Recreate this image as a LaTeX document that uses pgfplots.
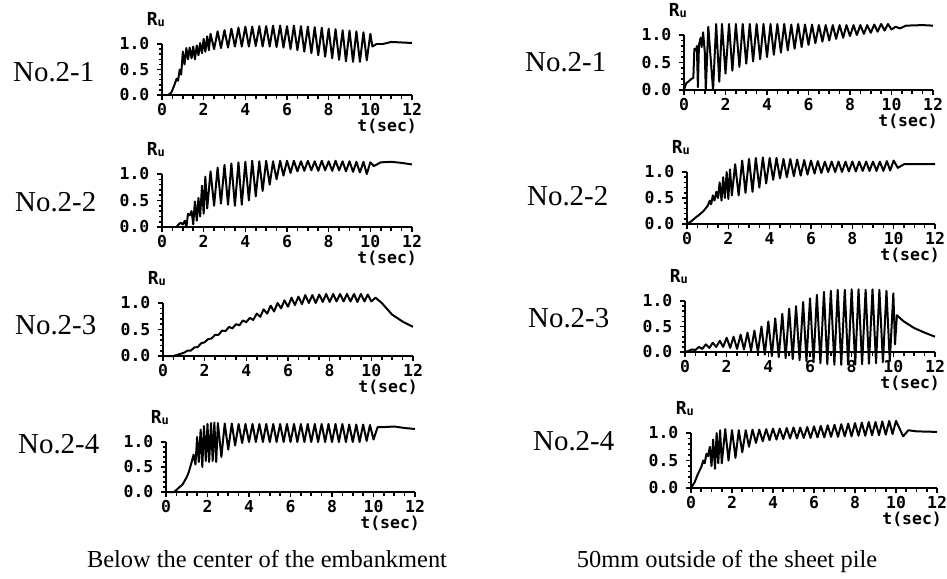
\documentclass[border=0pt]{standalone}
\usepackage{fontspec}
\setmainfont{Liberation Serif}
\newfontfamily\monofam{DejaVu Sans Mono}
\usepackage{pgfplots}
\pgfplotsset{compat=1.18}

\newcommand\tickfont{\monofam\bfseries\fontsize{16.5}{17}\selectfont}
\newcommand\rufont{\monofam\bfseries\fontsize{18}{18}\selectfont}
\newcommand\Ru{R\raisebox{-1bp}{\fontsize{12}{12}\selectfont u}}

\pgfplotsset{
  rupanel/.style={
    scale only axis, anchor=south west,
    xmin=0, xmax=12, ymin=0, ymax=1,
    axis x line=bottom, axis y line=left,
    axis line style={-, line width=1.8pt},
    xtick={0,2,4,6,8,10,12}, ytick={0,0.5,1},
    xticklabels={0,2,4,6,8,10,12}, yticklabels={0.0,0.5,1.0},
    minor x tick num=3, minor y tick num=4,
    tick align=outside, major tick length=5bp, minor tick length=3.5bp,
    tick style={black, line width=1.6pt},
    tick label style={font=\tickfont, inner sep=0.5bp},
    yticklabel style={xshift=-7bp},
    xticklabel style={yshift=-3bp},
    clip=false,
  },
  trace/.style={black, line width=2pt, mark=none, line join=round},
}
% Ru and t(sec) labels of every panel
\newcommand\panellabels{%
  \node[font=\rufont, anchor=south east, inner sep=0] at (rel axis cs:0,1) [xshift=3bp, yshift=17bp] {\Ru};
  \node[font=\tickfont, anchor=north east, inner sep=0] at (rel axis cs:1,0) [xshift=5bp, yshift=-24bp] {t(sec)};
}

\begin{document}
\begin{tikzpicture}
\useasboundingbox (0,0) rectangle (947bp,-579bp);

% ---------- left column: below the centre of the embankment ----------
\begin{axis}[rupanel, at={(162bp,-95bp)}, width=250bp, height=51bp]
\addplot[trace] coordinates {(0,0) (0.3,0) (0.45,0.05) (0.6,0.2) (0.7,0.32) (0.77,0.28) (0.85,0.5) (0.92,0.4) (1.0,0.85) (1.08,0.6) (1.17,0.92) (1.25,0.7) (1.33,0.93) (1.42,0.72) (1.5,0.95) (1.58,0.7) (1.67,0.97) (1.75,0.78) (1.83,1.02) (1.92,0.82) (2.0,1.1) (2.08,0.85) (2.17,1.15) (2.25,0.88) (2.33,1.2) (2.5,0.9) (2.67,1.25) (2.83,0.92) (3.0,1.27) (3.17,0.93) (3.33,1.3) (3.5,0.95) (3.67,1.32) (3.83,0.95) (4.0,1.34) (4.17,0.95) (4.33,1.34) (4.5,0.96) (4.67,1.35) (4.83,0.95) (5.0,1.35) (5.17,0.95) (5.33,1.36) (5.5,0.94) (5.67,1.36) (5.83,0.93) (6.0,1.35) (6.17,0.9) (6.33,1.36) (6.5,0.88) (6.67,1.35) (6.83,0.85) (7.0,1.34) (7.17,0.82) (7.33,1.33) (7.5,0.78) (7.67,1.32) (7.83,0.75) (8.0,1.3) (8.17,0.72) (8.33,1.29) (8.5,0.69) (8.67,1.27) (8.83,0.66) (9.0,1.26) (9.17,0.65) (9.33,1.25) (9.5,0.65) (9.67,1.23) (9.83,0.68) (10.0,1.2) (10.1,0.95) (10.3,1.0) (10.6,1.0) (11.0,1.04) (11.5,1.03) (12.0,1.02)};
\panellabels
\end{axis}

\begin{axis}[rupanel, at={(162bp,-227bp)}, width=250bp, height=53bp]
\addplot[trace] coordinates {(0,0) (0.7,0) (0.8,0.05) (0.9,0.08) (1.0,0.05) (1.1,0.12) (1.17,0.0) (1.25,0.25) (1.33,0.22) (1.42,0.3) (1.5,0.05) (1.58,0.48) (1.67,0.12) (1.75,0.55) (1.83,0.2) (1.92,0.78) (2.0,0.25) (2.08,0.95) (2.17,0.35) (2.33,1.05) (2.5,0.4) (2.67,1.12) (2.83,0.44) (3.0,1.17) (3.17,0.42) (3.33,1.2) (3.5,0.4) (3.67,1.22) (3.83,0.42) (4.0,1.23) (4.17,0.5) (4.33,1.25) (4.5,0.58) (4.67,1.24) (4.83,0.68) (5.0,1.25) (5.17,0.8) (5.33,1.24) (5.5,0.9) (5.67,1.25) (5.83,0.97) (6.0,1.25) (6.17,1.02) (6.33,1.25) (6.5,1.05) (6.67,1.24) (6.83,1.06) (7.0,1.25) (7.17,1.07) (7.33,1.24) (7.5,1.06) (7.67,1.25) (7.83,1.07) (8.0,1.24) (8.17,1.06) (8.33,1.25) (8.5,1.07) (8.67,1.24) (8.83,1.05) (9.0,1.24) (9.17,1.04) (9.33,1.23) (9.5,1.03) (9.67,1.23) (9.83,1.0) (10.0,1.22) (10.17,1.15) (10.5,1.22) (11.0,1.23) (11.5,1.21) (12.0,1.18)};
\panellabels
\end{axis}

\begin{axis}[rupanel, at={(163bp,-356bp)}, width=250bp, height=53bp]
\addplot[trace] coordinates {(0,0) (0.5,0) (1.0,0.06) (1.17,0.1) (1.33,0.1) (1.5,0.16) (1.67,0.17) (1.83,0.24) (2.0,0.26) (2.17,0.32) (2.33,0.33) (2.5,0.4) (2.67,0.4) (2.83,0.48) (3.0,0.47) (3.17,0.55) (3.33,0.52) (3.5,0.6) (3.67,0.58) (3.83,0.67) (4.0,0.64) (4.17,0.72) (4.33,0.68) (4.5,0.8) (4.67,0.74) (4.83,0.88) (5.0,0.8) (5.17,0.95) (5.33,0.84) (5.5,1.0) (5.67,0.9) (5.83,1.05) (6.0,0.93) (6.17,1.1) (6.33,0.96) (6.5,1.12) (6.67,0.98) (6.83,1.15) (7.0,1.0) (7.17,1.15) (7.33,1.0) (7.5,1.16) (7.67,1.02) (7.83,1.17) (8.0,1.02) (8.17,1.17) (8.33,1.03) (8.5,1.17) (8.67,1.03) (8.83,1.17) (9.0,1.03) (9.17,1.17) (9.33,1.02) (9.5,1.17) (9.67,1.03) (9.83,1.16) (10.0,1.03) (10.2,1.1) (10.5,1.0) (11.0,0.78) (11.5,0.65) (12.0,0.55)};
\panellabels
\end{axis}

\begin{axis}[rupanel, at={(166bp,-492bp)}, width=249bp, height=50bp]
\addplot[trace] coordinates {(0,0) (0.4,0) (0.6,0.08) (0.8,0.15) (1.0,0.3) (1.1,0.4) (1.17,0.5) (1.25,0.62) (1.33,0.75) (1.42,0.55) (1.5,1.1) (1.58,0.6) (1.67,1.25) (1.75,0.5) (1.83,1.32) (1.92,0.62) (2.0,1.36) (2.08,0.6) (2.17,1.38) (2.25,0.62) (2.33,1.39) (2.42,0.6) (2.5,1.38) (2.67,0.7) (2.83,1.37) (3.0,0.85) (3.17,1.37) (3.33,0.93) (3.5,1.36) (3.67,0.98) (3.83,1.36) (4.0,1.0) (4.17,1.36) (4.33,1.0) (4.5,1.36) (4.67,1.0) (4.83,1.36) (5.0,1.0) (5.17,1.36) (5.33,1.0) (5.5,1.36) (5.67,1.0) (5.83,1.36) (6.0,1.0) (6.17,1.36) (6.33,1.0) (6.5,1.36) (6.67,1.0) (6.83,1.36) (7.0,1.0) (7.17,1.36) (7.33,1.0) (7.5,1.36) (7.67,1.0) (7.83,1.36) (8.0,1.0) (8.17,1.36) (8.33,1.0) (8.5,1.36) (8.67,1.0) (8.83,1.35) (9.0,1.0) (9.17,1.35) (9.33,1.0) (9.5,1.35) (9.67,1.02) (9.83,1.34) (10.0,1.05) (10.2,1.3) (10.6,1.3) (11.0,1.31) (11.5,1.28) (12.0,1.26)};
\panellabels
\end{axis}

% ---------- right column: 50mm outside of the sheet pile ----------
\begin{axis}[rupanel, at={(684bp,-90bp)}, width=249bp, height=55bp]
\addplot[trace] coordinates {(0,0) (0.1,0.12) (0.2,0.15) (0.35,0.2) (0.45,0.22) (0.5,0.75) (0.58,0.72) (0.62,0.8) (0.67,0.05) (0.72,0.82) (0.8,0.95) (0.85,0.78) (0.92,1.05) (1.0,0.7) (1.05,0.0) (1.17,1.15) (1.3,0.5) (1.4,0.0) (1.55,1.2) (1.7,0.15) (1.83,1.2) (2.0,0.3) (2.17,1.2) (2.33,0.35) (2.5,1.2) (2.67,0.42) (2.83,1.2) (3.0,0.48) (3.17,1.2) (3.33,0.52) (3.5,1.2) (3.67,0.56) (3.83,1.2) (4.0,0.6) (4.17,1.2) (4.33,0.64) (4.5,1.2) (4.67,0.68) (4.83,1.2) (5.0,0.72) (5.17,1.19) (5.33,0.75) (5.5,1.2) (5.67,0.78) (5.83,1.19) (6.0,0.82) (6.17,1.19) (6.33,0.85) (6.5,1.18) (6.67,0.88) (6.83,1.18) (7.0,0.9) (7.17,1.18) (7.33,0.93) (7.5,1.18) (7.67,0.95) (7.83,1.18) (8.0,0.98) (8.17,1.18) (8.33,1.0) (8.5,1.18) (8.67,1.02) (8.83,1.18) (9.0,1.04) (9.17,1.19) (9.33,1.06) (9.5,1.2) (9.67,1.08) (9.83,1.2) (10.0,1.1) (10.2,1.15) (10.4,1.12) (10.7,1.17) (11.5,1.18) (12.0,1.17)};
\panellabels
\end{axis}

\begin{axis}[rupanel, at={(687bp,-224bp)}, width=248bp, height=52bp]
\addplot[trace] coordinates {(0,0) (0.2,0.05) (0.4,0.12) (0.6,0.18) (0.8,0.25) (1.0,0.35) (1.1,0.45) (1.17,0.38) (1.25,0.55) (1.33,0.45) (1.42,0.62) (1.5,0.5) (1.58,0.8) (1.67,0.45) (1.75,0.9) (1.83,0.5) (1.92,1.0) (2.0,0.48) (2.08,1.05) (2.17,0.55) (2.33,1.15) (2.5,0.55) (2.67,1.22) (2.83,0.6) (3.0,1.25) (3.17,0.62) (3.33,1.27) (3.5,0.7) (3.67,1.28) (3.83,0.78) (4.0,1.27) (4.17,0.85) (4.33,1.27) (4.5,0.88) (4.67,1.25) (4.83,0.9) (5.0,1.25) (5.17,0.92) (5.33,1.24) (5.5,0.93) (5.67,1.23) (5.83,0.95) (6.0,1.22) (6.17,0.97) (6.33,1.21) (6.5,0.98) (6.67,1.2) (6.83,1.0) (7.0,1.2) (7.17,1.0) (7.33,1.2) (7.5,1.0) (7.67,1.2) (7.83,1.01) (8.0,1.2) (8.17,1.01) (8.33,1.2) (8.5,1.02) (8.67,1.2) (8.83,1.02) (9.0,1.2) (9.17,1.02) (9.33,1.2) (9.5,1.02) (9.67,1.21) (9.83,1.03) (10.0,1.22) (10.2,1.08) (10.5,1.15) (11.0,1.15) (12.0,1.15)};
\panellabels
\end{axis}

\begin{axis}[rupanel, at={(685bp,-352bp)}, width=250bp, height=51bp]
\addplot[trace] coordinates {(0,0) (0.17,0.02) (0.33,0.05) (0.5,0.04) (0.67,0.1) (0.83,0.06) (1.0,0.15) (1.17,0.08) (1.33,0.18) (1.5,0.1) (1.67,0.22) (1.83,0.1) (2.0,0.28) (2.17,0.08) (2.33,0.3) (2.5,0.06) (2.67,0.34) (2.83,0.05) (3.0,0.38) (3.17,0.03) (3.33,0.42) (3.5,0.0) (3.67,0.5) (3.83,-0.05) (4.0,0.6) (4.17,-0.08) (4.33,0.66) (4.5,-0.1) (4.67,0.75) (4.83,-0.12) (5.0,0.85) (5.17,-0.14) (5.33,0.9) (5.5,-0.16) (5.67,0.98) (5.83,-0.18) (6.0,1.05) (6.17,-0.2) (6.33,1.12) (6.5,-0.22) (6.67,1.18) (6.83,-0.24) (7.0,1.2) (7.17,-0.25) (7.33,1.22) (7.5,-0.25) (7.67,1.22) (7.83,-0.25) (8.0,1.23) (8.17,-0.25) (8.33,1.23) (8.5,-0.24) (8.67,1.22) (8.83,-0.23) (9.0,1.23) (9.17,-0.22) (9.33,1.22) (9.5,-0.2) (9.67,1.2) (9.83,-0.18) (10.0,1.15) (10.08,0.15) (10.17,0.72) (10.5,0.6) (11.0,0.47) (11.5,0.38) (12.0,0.3)};
\panellabels
\end{axis}

\begin{axis}[rupanel, at={(691bp,-488bp)}, width=246bp, height=55bp]
\addplot[trace] coordinates {(0,0) (0.17,0.1) (0.33,0.25) (0.5,0.38) (0.6,0.5) (0.67,0.45) (0.75,0.62) (0.83,0.58) (0.92,0.75) (1.0,0.4) (1.08,0.88) (1.17,0.35) (1.25,1.0) (1.33,0.45) (1.42,1.05) (1.5,0.45) (1.67,1.07) (1.83,0.5) (2.0,1.05) (2.17,0.55) (2.33,1.05) (2.5,0.65) (2.67,1.05) (2.83,0.75) (3.0,1.06) (3.17,0.82) (3.33,1.06) (3.5,0.85) (3.67,1.07) (3.83,0.87) (4.0,1.08) (4.17,0.88) (4.33,1.08) (4.5,0.89) (4.67,1.09) (4.83,0.9) (5.0,1.1) (5.17,0.9) (5.33,1.1) (5.5,0.91) (5.67,1.11) (5.83,0.91) (6.0,1.12) (6.17,0.92) (6.33,1.13) (6.5,0.92) (6.67,1.14) (6.83,0.93) (7.0,1.15) (7.17,0.93) (7.33,1.16) (7.5,0.94) (7.67,1.17) (7.83,0.94) (8.0,1.18) (8.17,0.95) (8.33,1.19) (8.5,0.95) (8.67,1.2) (8.83,0.96) (9.0,1.2) (9.17,0.96) (9.33,1.21) (9.5,0.97) (9.67,1.22) (9.83,0.98) (10.0,1.22) (10.35,0.94) (10.6,1.05) (11.0,1.03) (12.0,1.02)};
\panellabels
\end{axis}

% panel names and captions
\begin{scope}[every node/.style={font=\fontsize{29}{29}\selectfont, anchor=west, inner sep=0}]
\node at (13bp,-72bp) {No.2-1};
\node at (15bp,-202bp) {No.2-2};
\node at (15bp,-325bp) {No.2-3};
\node at (18bp,-444bp) {No.2-4};
\node at (525bp,-62bp) {No.2-1};
\node at (527bp,-196bp) {No.2-2};
\node at (528bp,-318bp) {No.2-3};
\node at (533bp,-441bp) {No.2-4};
\end{scope}
\node[font=\fontsize{24.5}{25}\selectfont, anchor=base, inner sep=0] at (267bp,-567bp) {Below the center of the embankment};
\node[font=\fontsize{24.5}{25}\selectfont, anchor=base, inner sep=0] at (727bp,-567bp) {50mm outside of the sheet pile};
\end{tikzpicture}
\end{document}
